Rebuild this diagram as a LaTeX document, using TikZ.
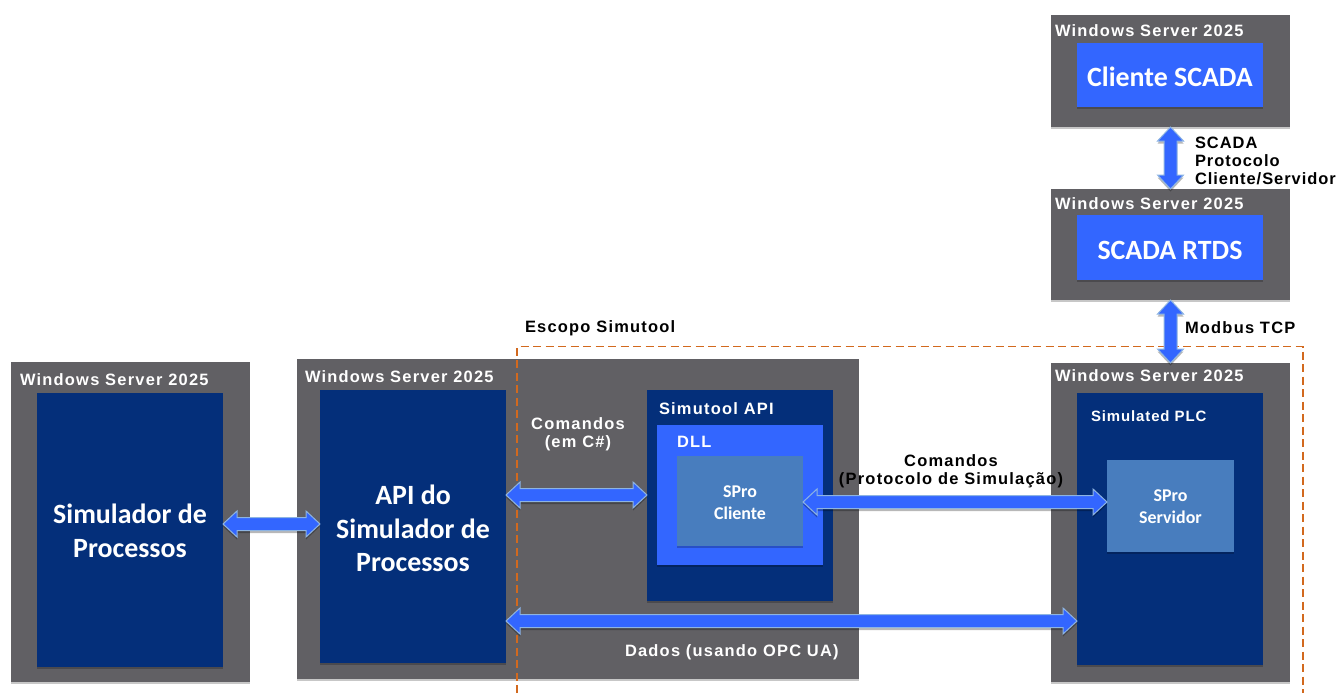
\documentclass[tikz,border=0pt]{standalone}
\usepackage{fontspec}
\setmainfont{Liberation Sans}
\newfontfamily\lblfont[LetterSpace=7.5,BoldFont={Liberation Sans Bold}]{Liberation Sans}
\newfontfamily\lblfontb[LetterSpace=6,BoldFont={Liberation Sans Bold}]{Liberation Sans}
\newfontfamily\capfont{Carlito}
\usetikzlibrary{arrows.meta,shadows,calc}
\definecolor{greyb}{HTML}{616064}
\definecolor{navy}{HTML}{042F7A}
\definecolor{brightb}{HTML}{3366FF}
\definecolor{steelb}{HTML}{487DBE}
\definecolor{edgeb}{HTML}{8DB4E2}
\definecolor{scope}{HTML}{D2691E}
\tikzset{
  x=1bp,y=-1bp,
  every node/.style={inner sep=0pt,outer sep=0pt},
  shad/.style={drop shadow={shadow xshift=0bp,shadow yshift=-1.5bp,opacity=.22,fill=black}},
  greybox/.style={fill=greyb,shad,rectangle},
  navybox/.style={fill=navy,shad,rectangle},
  brightbox/.style={fill=brightb,shad,rectangle},
  steelbox/.style={fill=steelb,shad,rectangle},
  wlabel/.style={text=white,anchor=west,font=\lblfont\bfseries\fontsize{16.5}{18}\selectfont},
  blabel/.style={text=black,anchor=west,font=\lblfont\bfseries\fontsize{16.5}{18}\selectfont},
  biglabel/.style={text=white,align=center,font=\capfont\bfseries\fontsize{28}{33.8}\selectfont},
  smalllabel/.style={text=white,align=center,font=\capfont\bfseries\fontsize{18}{22}\selectfont},
  ba/.style={shift={(\tikztostart)},rotate=\n2},
  blockarrow/.style={
    draw=edgeb,fill=brightb,line width=1bp,line join=miter,
    drop shadow={shadow xshift=0bp,shadow yshift=-2.5bp,opacity=.28,fill=black},
    to path={let \p1=($(\tikztotarget)-(\tikztostart)$),\n1={veclen(\x1,\y1)},\n2={atan2(\y1,\x1)} in
      -- ([ba]14bp,13bp) -- ([ba]14bp,6.5bp) -- ([ba]\n1-14bp,6.5bp) -- ([ba]\n1-14bp,13bp)
      -- ([ba]\n1,0pt) -- ([ba]\n1-14bp,-13bp) -- ([ba]\n1-14bp,-6.5bp) -- ([ba]14bp,-6.5bp)
      -- ([ba]14bp,-13bp) -- cycle}
  },
  scopeline/.style={draw=scope,line width=1.7bp,dash pattern=on 8bp off 4.5bp}
}
\begin{document}
\begin{tikzpicture}
\useasboundingbox (0,0) rectangle (1338,693);
% grey hosts
\node[greybox,minimum width=239bp,minimum height=320bp] (gsim) at (130.5,522) {};
\node[greybox,minimum width=562bp,minimum height=320bp] (gapi) at (578,519) {};
\node[greybox,minimum width=239bp,minimum height=319bp] (gplc) at (1170.5,522.5) {};
\node[greybox,minimum width=239bp,minimum height=111bp] (grtds) at (1170.5,244.5) {};
\node[greybox,minimum width=239bp,minimum height=112bp] (gcli) at (1170.5,71) {};
% inner boxes
\node[navybox,minimum width=186bp,minimum height=274bp,label={[biglabel,yshift=-1bp]center:Simulador de\\Processos}] (simproc) at (130,530) {};
\node[navybox,minimum width=186bp,minimum height=273bp,label={[biglabel,yshift=-2bp]center:API do\\Simulador de\\Processos}] (api) at (413,526.5) {};
\node[navybox,minimum width=186bp,minimum height=211bp] (simapi) at (740,495.5) {};
\node[brightbox,minimum width=166bp,minimum height=140bp] (dll) at (740,495) {};
\node[steelbox,minimum width=126bp,minimum height=90bp,label={[smalllabel,yshift=-1.5bp]center:SPro\\Cliente}] (sprocli) at (740,501) {};
\node[navybox,minimum width=186bp,minimum height=272bp] (plc) at (1170,529) {};
\node[steelbox,minimum width=127bp,minimum height=92bp,label={[smalllabel,yshift=-1bp]center:SPro\\Servidor}] (sproserv) at (1170.5,506) {};
\node[brightbox,minimum width=186bp,minimum height=64bp,label={[biglabel,yshift=-2bp]center:Cliente SCADA}] (clisc) at (1170,75) {};
\node[brightbox,minimum width=186bp,minimum height=65bp,label={[biglabel,yshift=-2.5bp]center:SCADA RTDS}] (rtds) at (1170,247.5) {};
% scope
\coordinate (scA) at (517,693);
\coordinate (scB) at (517,346.5);
\coordinate (scC) at (1303,346.5);
\coordinate (scD) at (1303,693);
\draw[scopeline] (scA) -- (scB) -- (scC) -- (scD);
% connectors
\draw[blockarrow] (gcli.south) to (grtds.north);
\draw[blockarrow] (grtds.south) to (gplc.north);
\draw[blockarrow] ([yshift=6bp]simproc.east) to ([yshift=2.5bp]api.west);
\draw[blockarrow] ([yshift=31.5bp]api.east) to ([yshift=.5bp]simapi.west);
\draw[blockarrow] ([yshift=-1bp]sprocli.east) to ([yshift=4bp]sproserv.west);
\draw[blockarrow] ([yshift=-94.5bp]api.east) to ([yshift=-92bp]plc.west);
% labels
\node[wlabel] (t1) at (20,380) {Windows Server 2025};
\node[wlabel] (t2) at (305,377) {Windows Server 2025};
\node[wlabel] (t3) at (1055,376) {Windows Server 2025};
\node[wlabel] (t4) at (1055,204) {Windows Server 2025};
\node[wlabel] (t5) at (1055,31) {Windows Server 2025};
\node[blabel] (t6) at (525,328) {Escopo Simutool};
\node[wlabel,anchor=center,align=center] (t7) at (578,434) {Comandos\\(em C\#)};
\node[blabel,anchor=center,align=center] (t8) at (951,471) {Comandos\\(Protocolo de Simulação)};
\node[wlabel] (t9) at (625,652) {Dados (usando OPC UA)};
\node[wlabel] (t10) at (659,409) {Simutool API};
\node[wlabel] (t11) at (677,442) {DLL};
\node[wlabel,font=\lblfontb\bfseries\fontsize{15}{18}\selectfont] (t12) at (1091,416) {Simulated PLC};
\node[blabel,align=left,font=\lblfontb\bfseries\fontsize{16.5}{18}\selectfont] (t13) at (1195,161) {SCADA\\Protocolo\\Cliente/Servidor};
\node[blabel] (t14) at (1185,328) {Modbus TCP};
\end{tikzpicture}
\end{document}
